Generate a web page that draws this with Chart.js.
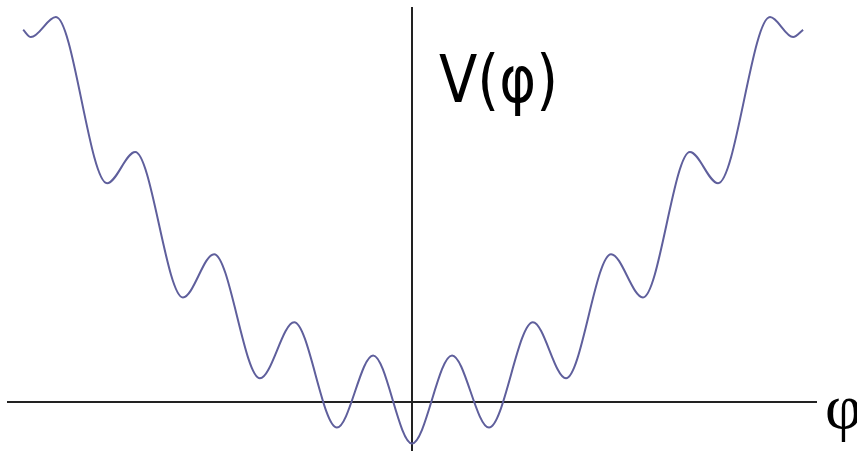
<!DOCTYPE html>
<html>
<head>
<meta charset="utf-8">
<script src="https://cdn.jsdelivr.net/npm/chart.js@4.4.0/dist/chart.umd.min.js"></script>
<style>
  html, body { margin: 0; padding: 0; background: #fff; }
  #wrap { width: 857px; height: 453px; }
</style>
</head>
<body>
<div id="wrap"><canvas id="myChart" width="857" height="453"></canvas></div>
<script>
// field values (phi) at the turning points of the curve
let phiVals = [-10.10, -9.90, -9.25, -7.92, -7.19, -5.95, -5.14, -3.95, -3.06, -1.95, -1.01, 0,
    1.04, 2.00, 3.14, 4.00, 5.17, 6.00, 7.22, 7.95, 9.30, 9.90, 10.16]
// potential V(phi) at those points
let potVals = [9.28, 9.10, 9.60, 5.45, 6.23, 2.60, 3.68, 0.58, 1.98, -0.65, 1.15, -1.05,
    1.15, -0.65, 1.98, 0.58, 3.68, 2.60, 6.23, 5.45, 9.60, 9.10, 9.28]

let xLabel = 'φ'
let yLabel = 'V(φ)'

let points = []
phiVals.forEach(function (phi, i) {
    points.push({ x: phi, y: potVals[i] })
});

// only keep the zero line of each scale, that is the axis cross
function onlyZero(axis) {
    axis.ticks = [{ value: 0 }]
}

// axis names drawn next to the axes
const axisNames = {
    id: 'axisNames',
    afterDraw(chart) {
        let ctx = chart.ctx
        let xs = chart.scales.x
        let ys = chart.scales.y
        ctx.save()
        ctx.fillStyle = '#000'
        ctx.textAlign = 'left'
        ctx.textBaseline = 'alphabetic'
        ctx.font = '66px "DejaVu Sans"'
        ctx.fillText(yLabel, xs.getPixelForValue(0) + 27, 102, 119)
        ctx.font = '64px "Liberation Serif"'
        ctx.fillText(xLabel, xs.right + 8, ys.getPixelForValue(0) + 26)
        ctx.restore()
    }
}

let currChart = document.getElementById('myChart').getContext('2d')

let potChart = new Chart(currChart, {
    type: 'line',
    data: {
        datasets: [{
            data: points,
            borderColor: '#5f5f9c',
            borderWidth: 2,
            pointRadius: 0,
            cubicInterpolationMode: 'monotone',
            fill: false,
        }]
    },
    options: {
        responsive: false,
        animation: false,
        layout: {
            padding: { left: 7, right: 40, top: 7, bottom: 2 }
        },
        scales: {
            x: {
                type: 'linear',
                min: -10.52,
                max: 10.52,
                afterBuildTicks: onlyZero,
                ticks: { display: false },
                border: { display: false },
                grid: { color: '#222', lineWidth: 2, drawTicks: false },
            },
            y: {
                type: 'linear',
                min: -1.235,
                max: 9.85,
                afterBuildTicks: onlyZero,
                ticks: { display: false },
                border: { display: false },
                grid: { color: '#222', lineWidth: 2, drawTicks: false },
            },
        },
        plugins: {
            legend: { display: false },
            tooltip: { enabled: false },
        }
    },
    plugins: [axisNames]
})
</script>
</body>
</html>
